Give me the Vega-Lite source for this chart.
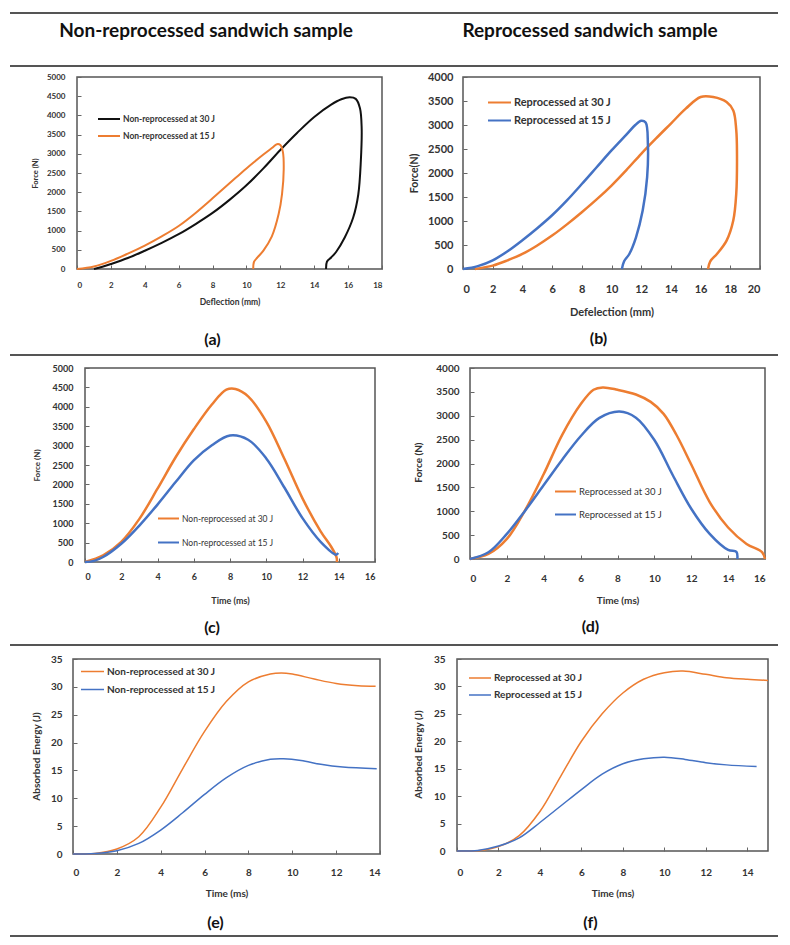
{
"$schema": "https://vega.github.io/schema/vega-lite/v6.json",
"padding": {"left": 9, "top": 12, "right": 2, "bottom": 2},
"background": "white",
"config": {
  "view": {"stroke": null},
  "font": "Lato",
  "concat": {"spacing": 0},
  "axis": {"domain": false, "grid": false, "format": "d", "labelFontWeight": "bold", "titleFontWeight": "bold", "labelColor": "#333", "titleColor": "#333", "tickColor": "#666", "tickSize": -4, "titleAlign": "center", "titleBaseline": "middle", "labelFont": "Lato", "titleFont": "Lato"},
  "legend": {"orient": "none", "title": null, "symbolType": "stroke", "symbolStrokeWidth": 2, "padding": 0, "labelOffset": 2, "labelFontWeight": "bold", "labelColor": "#333", "labelFont": "Lato"},
  "title": {"orient": "bottom", "fontSize": 16, "fontWeight": "bold", "color": "#111", "frame": "group", "baseline": "top", "font": "Lato"}
},
"resolve": {"scale": {"color": "independent", "x": "independent", "y": "independent"}, "legend": {"color": "independent"}},
"datasets": {
  "a": [
    {"series":"Non-reprocessed at 30 J","i":1,"deflection":1.0,"force":0},
    {"series":"Non-reprocessed at 30 J","i":2,"deflection":1.5,"force":60},
    {"series":"Non-reprocessed at 30 J","i":3,"deflection":2,"force":130},
    {"series":"Non-reprocessed at 30 J","i":4,"deflection":3,"force":285},
    {"series":"Non-reprocessed at 30 J","i":5,"deflection":4,"force":475},
    {"series":"Non-reprocessed at 30 J","i":6,"deflection":5,"force":680},
    {"series":"Non-reprocessed at 30 J","i":7,"deflection":6,"force":906},
    {"series":"Non-reprocessed at 30 J","i":8,"deflection":7,"force":1170},
    {"series":"Non-reprocessed at 30 J","i":9,"deflection":8,"force":1460},
    {"series":"Non-reprocessed at 30 J","i":10,"deflection":9,"force":1800},
    {"series":"Non-reprocessed at 30 J","i":11,"deflection":10,"force":2180},
    {"series":"Non-reprocessed at 30 J","i":12,"deflection":11,"force":2620},
    {"series":"Non-reprocessed at 30 J","i":13,"deflection":12,"force":3100},
    {"series":"Non-reprocessed at 30 J","i":14,"deflection":13,"force":3550},
    {"series":"Non-reprocessed at 30 J","i":15,"deflection":14,"force":3960},
    {"series":"Non-reprocessed at 30 J","i":16,"deflection":15,"force":4280},
    {"series":"Non-reprocessed at 30 J","i":17,"deflection":15.6,"force":4420},
    {"series":"Non-reprocessed at 30 J","i":18,"deflection":16.1,"force":4470},
    {"series":"Non-reprocessed at 30 J","i":19,"deflection":16.45,"force":4430},
    {"series":"Non-reprocessed at 30 J","i":20,"deflection":16.7,"force":4186},
    {"series":"Non-reprocessed at 30 J","i":21,"deflection":16.8,"force":3668},
    {"series":"Non-reprocessed at 30 J","i":22,"deflection":16.75,"force":2805},
    {"series":"Non-reprocessed at 30 J","i":23,"deflection":16.6,"force":1940},
    {"series":"Non-reprocessed at 30 J","i":24,"deflection":16.3,"force":1340},
    {"series":"Non-reprocessed at 30 J","i":25,"deflection":15.8,"force":820},
    {"series":"Non-reprocessed at 30 J","i":26,"deflection":15.3,"force":450},
    {"series":"Non-reprocessed at 30 J","i":27,"deflection":15.0,"force":300},
    {"series":"Non-reprocessed at 30 J","i":28,"deflection":14.75,"force":190},
    {"series":"Non-reprocessed at 30 J","i":29,"deflection":14.7,"force":0},
    {"series":"Non-reprocessed at 15 J","i":1,"deflection":0,"force":0},
    {"series":"Non-reprocessed at 15 J","i":2,"deflection":1,"force":65},
    {"series":"Non-reprocessed at 15 J","i":3,"deflection":2,"force":210},
    {"series":"Non-reprocessed at 15 J","i":4,"deflection":3,"force":400},
    {"series":"Non-reprocessed at 15 J","i":5,"deflection":4,"force":610},
    {"series":"Non-reprocessed at 15 J","i":6,"deflection":5,"force":850},
    {"series":"Non-reprocessed at 15 J","i":7,"deflection":6,"force":1120},
    {"series":"Non-reprocessed at 15 J","i":8,"deflection":7,"force":1460},
    {"series":"Non-reprocessed at 15 J","i":9,"deflection":8,"force":1840},
    {"series":"Non-reprocessed at 15 J","i":10,"deflection":9,"force":2230},
    {"series":"Non-reprocessed at 15 J","i":11,"deflection":10,"force":2620},
    {"series":"Non-reprocessed at 15 J","i":12,"deflection":11,"force":2980},
    {"series":"Non-reprocessed at 15 J","i":13,"deflection":11.5,"force":3150},
    {"series":"Non-reprocessed at 15 J","i":14,"deflection":11.8,"force":3250},
    {"series":"Non-reprocessed at 15 J","i":15,"deflection":12.0,"force":3230},
    {"series":"Non-reprocessed at 15 J","i":16,"deflection":12.15,"force":3050},
    {"series":"Non-reprocessed at 15 J","i":17,"deflection":12.2,"force":2600},
    {"series":"Non-reprocessed at 15 J","i":18,"deflection":12.1,"force":1950},
    {"series":"Non-reprocessed at 15 J","i":19,"deflection":11.9,"force":1430},
    {"series":"Non-reprocessed at 15 J","i":20,"deflection":11.5,"force":850},
    {"series":"Non-reprocessed at 15 J","i":21,"deflection":11.0,"force":480},
    {"series":"Non-reprocessed at 15 J","i":22,"deflection":10.65,"force":300},
    {"series":"Non-reprocessed at 15 J","i":23,"deflection":10.45,"force":190},
    {"series":"Non-reprocessed at 15 J","i":24,"deflection":10.4,"force":0}
  ],
  "b": [
    {"series":"Reprocessed at 30 J","i":1,"deflection":0.8,"force":0},
    {"series":"Reprocessed at 30 J","i":2,"deflection":2,"force":70},
    {"series":"Reprocessed at 30 J","i":3,"deflection":3,"force":180},
    {"series":"Reprocessed at 30 J","i":4,"deflection":4,"force":313},
    {"series":"Reprocessed at 30 J","i":5,"deflection":5,"force":490},
    {"series":"Reprocessed at 30 J","i":6,"deflection":6,"force":696},
    {"series":"Reprocessed at 30 J","i":7,"deflection":7,"force":930},
    {"series":"Reprocessed at 30 J","i":8,"deflection":8,"force":1183},
    {"series":"Reprocessed at 30 J","i":9,"deflection":9,"force":1450},
    {"series":"Reprocessed at 30 J","i":10,"deflection":10,"force":1739},
    {"series":"Reprocessed at 30 J","i":11,"deflection":11,"force":2060},
    {"series":"Reprocessed at 30 J","i":12,"deflection":12,"force":2400},
    {"series":"Reprocessed at 30 J","i":13,"deflection":13,"force":2720},
    {"series":"Reprocessed at 30 J","i":14,"deflection":14,"force":3030},
    {"series":"Reprocessed at 30 J","i":15,"deflection":15,"force":3340},
    {"series":"Reprocessed at 30 J","i":16,"deflection":16,"force":3583},
    {"series":"Reprocessed at 30 J","i":17,"deflection":16.85,"force":3583},
    {"series":"Reprocessed at 30 J","i":18,"deflection":17.75,"force":3478},
    {"series":"Reprocessed at 30 J","i":19,"deflection":18.2,"force":3300},
    {"series":"Reprocessed at 30 J","i":20,"deflection":18.4,"force":2900},
    {"series":"Reprocessed at 30 J","i":21,"deflection":18.45,"force":2400},
    {"series":"Reprocessed at 30 J","i":22,"deflection":18.4,"force":1565},
    {"series":"Reprocessed at 30 J","i":23,"deflection":18.2,"force":1009},
    {"series":"Reprocessed at 30 J","i":24,"deflection":17.75,"force":591},
    {"series":"Reprocessed at 30 J","i":25,"deflection":17.1,"force":313},
    {"series":"Reprocessed at 30 J","i":26,"deflection":16.65,"force":160},
    {"series":"Reprocessed at 30 J","i":27,"deflection":16.5,"force":0},
    {"series":"Reprocessed at 15 J","i":1,"deflection":0,"force":0},
    {"series":"Reprocessed at 15 J","i":2,"deflection":1,"force":60},
    {"series":"Reprocessed at 15 J","i":3,"deflection":2,"force":180},
    {"series":"Reprocessed at 15 J","i":4,"deflection":3,"force":370},
    {"series":"Reprocessed at 15 J","i":5,"deflection":4,"force":600},
    {"series":"Reprocessed at 15 J","i":6,"deflection":5,"force":850},
    {"series":"Reprocessed at 15 J","i":7,"deflection":6,"force":1120},
    {"series":"Reprocessed at 15 J","i":8,"deflection":7,"force":1430},
    {"series":"Reprocessed at 15 J","i":9,"deflection":8,"force":1770},
    {"series":"Reprocessed at 15 J","i":10,"deflection":9,"force":2120},
    {"series":"Reprocessed at 15 J","i":11,"deflection":10,"force":2470},
    {"series":"Reprocessed at 15 J","i":12,"deflection":11,"force":2800},
    {"series":"Reprocessed at 15 J","i":13,"deflection":11.6,"force":3000},
    {"series":"Reprocessed at 15 J","i":14,"deflection":12.0,"force":3090},
    {"series":"Reprocessed at 15 J","i":15,"deflection":12.3,"force":3050},
    {"series":"Reprocessed at 15 J","i":16,"deflection":12.45,"force":2609},
    {"series":"Reprocessed at 15 J","i":17,"deflection":12.4,"force":1913},
    {"series":"Reprocessed at 15 J","i":18,"deflection":12.1,"force":1217},
    {"series":"Reprocessed at 15 J","i":19,"deflection":11.65,"force":661},
    {"series":"Reprocessed at 15 J","i":20,"deflection":11.2,"force":313},
    {"series":"Reprocessed at 15 J","i":21,"deflection":10.85,"force":160},
    {"series":"Reprocessed at 15 J","i":22,"deflection":10.7,"force":0}
  ],
  "c": [
    {"series":"Non-reprocessed at 30 J","i":1,"time":0,"force":0},
    {"series":"Non-reprocessed at 30 J","i":2,"time":1,"force":171},
    {"series":"Non-reprocessed at 30 J","i":3,"time":2,"force":520},
    {"series":"Non-reprocessed at 30 J","i":4,"time":3,"force":1111},
    {"series":"Non-reprocessed at 30 J","i":5,"time":4,"force":1890},
    {"series":"Non-reprocessed at 30 J","i":6,"time":5,"force":2700},
    {"series":"Non-reprocessed at 30 J","i":7,"time":6,"force":3420},
    {"series":"Non-reprocessed at 30 J","i":8,"time":7,"force":4060},
    {"series":"Non-reprocessed at 30 J","i":9,"time":7.8,"force":4440},
    {"series":"Non-reprocessed at 30 J","i":10,"time":8.3,"force":4460},
    {"series":"Non-reprocessed at 30 J","i":11,"time":9,"force":4270},
    {"series":"Non-reprocessed at 30 J","i":12,"time":10,"force":3620},
    {"series":"Non-reprocessed at 30 J","i":13,"time":11,"force":2660},
    {"series":"Non-reprocessed at 30 J","i":14,"time":12,"force":1640},
    {"series":"Non-reprocessed at 30 J","i":15,"time":13,"force":790},
    {"series":"Non-reprocessed at 30 J","i":16,"time":13.6,"force":380},
    {"series":"Non-reprocessed at 30 J","i":17,"time":13.88,"force":120},
    {"series":"Non-reprocessed at 30 J","i":18,"time":13.9,"force":0},
    {"series":"Non-reprocessed at 15 J","i":1,"time":0,"force":0},
    {"series":"Non-reprocessed at 15 J","i":2,"time":0.5,"force":30},
    {"series":"Non-reprocessed at 15 J","i":3,"time":1,"force":128},
    {"series":"Non-reprocessed at 15 J","i":4,"time":2,"force":470},
    {"series":"Non-reprocessed at 15 J","i":5,"time":3,"force":940},
    {"series":"Non-reprocessed at 15 J","i":6,"time":4,"force":1480},
    {"series":"Non-reprocessed at 15 J","i":7,"time":5,"force":2060},
    {"series":"Non-reprocessed at 15 J","i":8,"time":6,"force":2620},
    {"series":"Non-reprocessed at 15 J","i":9,"time":7,"force":3010},
    {"series":"Non-reprocessed at 15 J","i":10,"time":8,"force":3260},
    {"series":"Non-reprocessed at 15 J","i":11,"time":9,"force":3150},
    {"series":"Non-reprocessed at 15 J","i":12,"time":10,"force":2670},
    {"series":"Non-reprocessed at 15 J","i":13,"time":11,"force":1920},
    {"series":"Non-reprocessed at 15 J","i":14,"time":12,"force":1130},
    {"series":"Non-reprocessed at 15 J","i":15,"time":13,"force":520},
    {"series":"Non-reprocessed at 15 J","i":16,"time":13.85,"force":190},
    {"series":"Non-reprocessed at 15 J","i":17,"time":13.97,"force":230}
  ],
  "d": [
    {"series":"Reprocessed at 30 J","i":1,"time":0,"force":0},
    {"series":"Reprocessed at 30 J","i":2,"time":1,"force":105},
    {"series":"Reprocessed at 30 J","i":3,"time":2,"force":420},
    {"series":"Reprocessed at 30 J","i":4,"time":3,"force":1030},
    {"series":"Reprocessed at 30 J","i":5,"time":4,"force":1780},
    {"series":"Reprocessed at 30 J","i":6,"time":5,"force":2600},
    {"series":"Reprocessed at 30 J","i":7,"time":6,"force":3240},
    {"series":"Reprocessed at 30 J","i":8,"time":6.7,"force":3544},
    {"series":"Reprocessed at 30 J","i":9,"time":7.2,"force":3593},
    {"series":"Reprocessed at 30 J","i":10,"time":8,"force":3544},
    {"series":"Reprocessed at 30 J","i":11,"time":9,"force":3445},
    {"series":"Reprocessed at 30 J","i":12,"time":9.8,"force":3290},
    {"series":"Reprocessed at 30 J","i":13,"time":10.5,"force":3040},
    {"series":"Reprocessed at 30 J","i":14,"time":11.2,"force":2597},
    {"series":"Reprocessed at 30 J","i":15,"time":12,"force":1980},
    {"series":"Reprocessed at 30 J","i":16,"time":13,"force":1193},
    {"series":"Reprocessed at 30 J","i":17,"time":14,"force":660},
    {"series":"Reprocessed at 30 J","i":18,"time":15,"force":316},
    {"series":"Reprocessed at 30 J","i":19,"time":15.85,"force":140},
    {"series":"Reprocessed at 30 J","i":20,"time":16.0,"force":0},
    {"series":"Reprocessed at 15 J","i":1,"time":0,"force":0},
    {"series":"Reprocessed at 15 J","i":2,"time":1,"force":140},
    {"series":"Reprocessed at 15 J","i":3,"time":2,"force":526},
    {"series":"Reprocessed at 15 J","i":4,"time":3,"force":1018},
    {"series":"Reprocessed at 15 J","i":5,"time":4,"force":1550},
    {"series":"Reprocessed at 15 J","i":6,"time":5,"force":2080},
    {"series":"Reprocessed at 15 J","i":7,"time":6,"force":2570},
    {"series":"Reprocessed at 15 J","i":8,"time":7,"force":2950},
    {"series":"Reprocessed at 15 J","i":9,"time":8.1,"force":3088},
    {"series":"Reprocessed at 15 J","i":10,"time":9,"force":2960},
    {"series":"Reprocessed at 15 J","i":11,"time":10,"force":2491},
    {"series":"Reprocessed at 15 J","i":12,"time":11,"force":1754},
    {"series":"Reprocessed at 15 J","i":13,"time":12,"force":1053},
    {"series":"Reprocessed at 15 J","i":14,"time":13,"force":526},
    {"series":"Reprocessed at 15 J","i":15,"time":14,"force":190},
    {"series":"Reprocessed at 15 J","i":16,"time":14.45,"force":150},
    {"series":"Reprocessed at 15 J","i":17,"time":14.5,"force":0}
  ],
  "e": [
    {"series":"Non-reprocessed at 30 J","i":1,"time":0,"energy":0},
    {"series":"Non-reprocessed at 30 J","i":2,"time":1,"energy":0.1},
    {"series":"Non-reprocessed at 30 J","i":3,"time":2,"energy":0.9},
    {"series":"Non-reprocessed at 30 J","i":4,"time":3,"energy":3.1},
    {"series":"Non-reprocessed at 30 J","i":5,"time":4,"energy":8.4},
    {"series":"Non-reprocessed at 30 J","i":6,"time":5,"energy":15.3},
    {"series":"Non-reprocessed at 30 J","i":7,"time":6,"energy":22.0},
    {"series":"Non-reprocessed at 30 J","i":8,"time":7,"energy":27.4},
    {"series":"Non-reprocessed at 30 J","i":9,"time":8,"energy":30.9},
    {"series":"Non-reprocessed at 30 J","i":10,"time":9,"energy":32.3},
    {"series":"Non-reprocessed at 30 J","i":11,"time":9.5,"energy":32.5},
    {"series":"Non-reprocessed at 30 J","i":12,"time":10,"energy":32.3},
    {"series":"Non-reprocessed at 30 J","i":13,"time":11,"energy":31.4},
    {"series":"Non-reprocessed at 30 J","i":14,"time":12,"energy":30.6},
    {"series":"Non-reprocessed at 30 J","i":15,"time":13,"energy":30.2},
    {"series":"Non-reprocessed at 30 J","i":16,"time":13.8,"energy":30.1},
    {"series":"Non-reprocessed at 15 J","i":1,"time":0,"energy":0},
    {"series":"Non-reprocessed at 15 J","i":2,"time":1,"energy":0.1},
    {"series":"Non-reprocessed at 15 J","i":3,"time":2,"energy":0.6},
    {"series":"Non-reprocessed at 15 J","i":4,"time":3,"energy":1.9},
    {"series":"Non-reprocessed at 15 J","i":5,"time":4,"energy":4.3},
    {"series":"Non-reprocessed at 15 J","i":6,"time":5,"energy":7.4},
    {"series":"Non-reprocessed at 15 J","i":7,"time":6,"energy":10.7},
    {"series":"Non-reprocessed at 15 J","i":8,"time":7,"energy":13.7},
    {"series":"Non-reprocessed at 15 J","i":9,"time":8,"energy":15.9},
    {"series":"Non-reprocessed at 15 J","i":10,"time":9,"energy":17.0},
    {"series":"Non-reprocessed at 15 J","i":11,"time":9.6,"energy":17.1},
    {"series":"Non-reprocessed at 15 J","i":12,"time":10.4,"energy":16.8},
    {"series":"Non-reprocessed at 15 J","i":13,"time":11.3,"energy":16.1},
    {"series":"Non-reprocessed at 15 J","i":14,"time":12.3,"energy":15.6},
    {"series":"Non-reprocessed at 15 J","i":15,"time":13.85,"energy":15.3}
  ],
  "f": [
    {"series":"Reprocessed at 30 J","i":1,"time":0,"energy":0},
    {"series":"Reprocessed at 30 J","i":2,"time":1,"energy":0.05},
    {"series":"Reprocessed at 30 J","i":3,"time":2,"energy":0.8},
    {"series":"Reprocessed at 30 J","i":4,"time":3,"energy":2.8},
    {"series":"Reprocessed at 30 J","i":5,"time":4,"energy":7.2},
    {"series":"Reprocessed at 30 J","i":6,"time":5,"energy":13.6},
    {"series":"Reprocessed at 30 J","i":7,"time":6,"energy":20.0},
    {"series":"Reprocessed at 30 J","i":8,"time":7,"energy":25.0},
    {"series":"Reprocessed at 30 J","i":9,"time":8,"energy":28.8},
    {"series":"Reprocessed at 30 J","i":10,"time":9,"energy":31.3},
    {"series":"Reprocessed at 30 J","i":11,"time":10,"energy":32.5},
    {"series":"Reprocessed at 30 J","i":12,"time":10.9,"energy":32.8},
    {"series":"Reprocessed at 30 J","i":13,"time":12,"energy":32.2},
    {"series":"Reprocessed at 30 J","i":14,"time":13,"energy":31.6},
    {"series":"Reprocessed at 30 J","i":15,"time":14,"energy":31.3},
    {"series":"Reprocessed at 30 J","i":16,"time":15,"energy":31.1},
    {"series":"Reprocessed at 15 J","i":1,"time":0,"energy":0},
    {"series":"Reprocessed at 15 J","i":2,"time":1,"energy":0.1},
    {"series":"Reprocessed at 15 J","i":3,"time":2,"energy":0.9},
    {"series":"Reprocessed at 15 J","i":4,"time":3,"energy":2.4},
    {"series":"Reprocessed at 15 J","i":5,"time":4,"energy":5.2},
    {"series":"Reprocessed at 15 J","i":6,"time":5,"energy":8.2},
    {"series":"Reprocessed at 15 J","i":7,"time":6,"energy":11.2},
    {"series":"Reprocessed at 15 J","i":8,"time":7,"energy":14.0},
    {"series":"Reprocessed at 15 J","i":9,"time":8,"energy":15.9},
    {"series":"Reprocessed at 15 J","i":10,"time":9,"energy":16.8},
    {"series":"Reprocessed at 15 J","i":11,"time":10,"energy":17.1},
    {"series":"Reprocessed at 15 J","i":12,"time":11,"energy":16.7},
    {"series":"Reprocessed at 15 J","i":13,"time":12,"energy":16.1},
    {"series":"Reprocessed at 15 J","i":14,"time":13,"energy":15.7},
    {"series":"Reprocessed at 15 J","i":15,"time":14.45,"energy":15.4}
  ]
},
"vconcat": [
  {
    "width": 768, "height": 53,
    "layer": [
      {"data": {"values": [{"edge": 1}, {"edge": 0}]},
       "mark": {"type": "rule", "color": "#555", "strokeWidth": 2},
       "encoding": {"y": {"field": "edge", "type": "quantitative", "scale": {"domain": [0, 1]}, "axis": null}}},
      {"data": {"values": [{"header": "Non-reprocessed sandwich sample"}, {"header": "Reprocessed sandwich sample"}]},
       "mark": {"type": "text", "fontSize": 19, "fontWeight": "bold", "font": "Lato", "color": "#111", "dy": -9, "dx": 4, "baseline": "middle"},
       "encoding": {"x": {"field": "header", "type": "nominal", "axis": null, "sort": null}, "text": {"field": "header"}}}
    ]
  },
  {"width": 10, "height": 3, "data": {"values": []}, "mark": "point", "encoding": {}},
  {
    "bounds": "flush", "spacing": 0,
    "resolve": {"scale": {"color": "independent", "x": "independent", "y": "independent"}, "legend": {"color": "independent"}},
    "hconcat": [
      {"width": 67, "height": 277, "data": {"values": []}, "mark": "point", "encoding": {}},
      {
        "width": 305, "height": 192,
        "view": {"stroke": "#555", "strokeWidth": 1.5},
        "title": {"text": "(a)", "dx": -17, "offset": 26},
        "data": {"name": "a"},
        "mark": {"type": "line", "strokeWidth": 2, "interpolate": "catmull-rom"},
        "encoding": {
          "x": {"field": "deflection", "type": "quantitative", "scale": {"domain": [0, 18], "nice": false},
                "axis": {"values": [0,2,4,6,8,10,12,14,16,18], "title": "Deflection (mm)", "labelFontSize": 8, "titleFontSize": 8.5, "labelPadding": 16, "titleY": 32}},
          "y": {"field": "force", "type": "quantitative", "scale": {"domain": [0, 5000], "nice": false},
                "axis": {"values": [0,500,1000,1500,2000,2500,3000,3500,4000,4500,5000], "title": "Force (N)", "labelFontSize": 8, "titleFontSize": 7.5, "labelPadding": 16, "titleX": -42, "titleY": 96}},
          "color": {"field": "series", "type": "nominal", "scale": {"domain": ["Non-reprocessed at 30 J", "Non-reprocessed at 15 J"], "range": ["#111111", "#ED7D31"]},
                    "legend": {"legendX": 20, "legendY": 30, "symbolSize": 484, "labelFontSize": 8.5, "rowPadding": -5}},
          "order": {"field": "i", "type": "quantitative"}
        }
      },
      {"width": 81, "height": 10, "data": {"values": []}, "mark": "point", "encoding": {}},
      {
        "width": 297, "height": 192,
        "view": {"stroke": "#555", "strokeWidth": 1.5},
        "title": {"text": "(b)", "dx": -13, "offset": 14},
        "data": {"name": "b"},
        "mark": {"type": "line", "strokeWidth": 2.5, "interpolate": "catmull-rom"},
        "encoding": {
          "x": {"field": "deflection", "type": "quantitative", "scale": {"domain": [0, 20], "nice": false},
                "axis": {"values": [0,2,4,6,8,10,12,14,16,18,20], "title": "Defelection (mm)", "labelFontSize": 11, "titleFontSize": 11, "labelPadding": 18, "titleY": 43}},
          "y": {"field": "force", "type": "quantitative", "scale": {"domain": [0, 4000], "nice": false},
                "axis": {"values": [0,500,1000,1500,2000,2500,3000,3500,4000], "title": "Force(N)", "labelFontSize": 11, "titleFontSize": 10.5, "labelPadding": 14, "titleX": -49, "titleY": 96}},
          "color": {"field": "series", "type": "nominal", "scale": {"domain": ["Reprocessed at 30 J", "Reprocessed at 15 J"], "range": ["#ED7D31", "#4472C4"]},
                    "legend": {"legendX": 24, "legendY": 13, "symbolSize": 529, "labelFontSize": 11, "rowPadding": -1}},
          "order": {"field": "i", "type": "quantitative"}
        }
      }
    ]
  },
  {"width": 768, "height": 7, "data": {"values": [{"edge": 1}]},
   "mark": {"type": "rule", "color": "#555", "strokeWidth": 2},
   "encoding": {"y": {"field": "edge", "type": "quantitative", "scale": {"domain": [0, 1]}, "axis": null}}},
  {
    "bounds": "flush", "spacing": 0,
    "resolve": {"scale": {"color": "independent", "x": "independent", "y": "independent"}, "legend": {"color": "independent"}},
    "hconcat": [
      {"width": 75, "height": 276, "data": {"values": []}, "mark": "point", "encoding": {}},
      {
        "width": 290, "height": 194,
        "view": {"stroke": "#555", "strokeWidth": 1.5},
        "title": {"text": "(c)", "dx": -18, "offset": 15},
        "data": {"name": "c"},
        "mark": {"type": "line", "strokeWidth": 2.5, "interpolate": "catmull-rom"},
        "encoding": {
          "x": {"field": "time", "type": "quantitative", "scale": {"domain": [0, 16], "nice": false},
                "axis": {"values": [0,2,4,6,8,10,12,14,16], "title": "Time (ms)", "labelFontSize": 9, "titleFontSize": 9, "labelPadding": 14, "titleY": 38}},
          "y": {"field": "force", "type": "quantitative", "scale": {"domain": [0, 5000], "nice": false},
                "axis": {"values": [0,500,1000,1500,2000,2500,3000,3500,4000,4500,5000], "title": "Force (N)", "labelFontSize": 9, "titleFontSize": 8, "labelPadding": 16, "titleX": -48, "titleY": 97}},
          "color": {"field": "series", "type": "nominal", "scale": {"domain": ["Non-reprocessed at 30 J", "Non-reprocessed at 15 J"], "range": ["#ED7D31", "#4472C4"]},
                    "legend": {"legendX": 72, "legendY": 139, "symbolSize": 441, "labelFontSize": 8.5, "labelFontWeight": "normal", "rowPadding": 8}},
          "order": {"field": "i", "type": "quantitative"}
        }
      },
      {"width": 95, "height": 10, "data": {"values": []}, "mark": "point", "encoding": {}},
      {
        "width": 295, "height": 191,
        "view": {"stroke": "#555", "strokeWidth": 1.5},
        "title": {"text": "(d)", "dx": -27, "offset": 14},
        "data": {"name": "d"},
        "mark": {"type": "line", "strokeWidth": 2.5, "interpolate": "catmull-rom"},
        "encoding": {
          "x": {"field": "time", "type": "quantitative", "scale": {"domain": [0, 16], "nice": false},
                "axis": {"values": [0,2,4,6,8,10,12,14,16], "title": "Time (ms)", "labelFontSize": 10, "titleFontSize": 10, "labelPadding": 18, "titleY": 41}},
          "y": {"field": "force", "type": "quantitative", "scale": {"domain": [0, 4000], "nice": false},
                "axis": {"values": [0,500,1000,1500,2000,2500,3000,3500,4000], "title": "Force (N)", "labelFontSize": 10, "titleFontSize": 10, "labelPadding": 15, "titleX": -52, "titleY": 94}},
          "color": {"field": "series", "type": "nominal", "scale": {"domain": ["Reprocessed at 30 J", "Reprocessed at 15 J"], "range": ["#ED7D31", "#4472C4"]},
                    "legend": {"legendX": 84, "legendY": 112, "symbolSize": 441, "labelFontSize": 9.5, "labelFontWeight": "normal", "rowPadding": 7}},
          "order": {"field": "i", "type": "quantitative"}
        }
      }
    ]
  },
  {"width": 768, "height": 8, "data": {"values": [{"edge": 1}]},
   "mark": {"type": "rule", "color": "#555", "strokeWidth": 2},
   "encoding": {"y": {"field": "edge", "type": "quantitative", "scale": {"domain": [0, 1]}, "axis": null}}},
  {
    "bounds": "flush", "spacing": 0,
    "resolve": {"scale": {"color": "independent", "x": "independent", "y": "independent"}, "legend": {"color": "independent"}},
    "hconcat": [
      {"width": 63, "height": 276, "data": {"values": []}, "mark": "point", "encoding": {}},
      {
        "width": 307, "height": 195,
        "view": {"stroke": "#555", "strokeWidth": 1.5},
        "title": {"text": "(e)", "dx": -11, "offset": 17},
        "data": {"name": "e"},
        "mark": {"type": "line", "strokeWidth": 1.5, "interpolate": "catmull-rom"},
        "encoding": {
          "x": {"field": "time", "type": "quantitative", "scale": {"domain": [0, 14], "nice": false},
                "axis": {"values": [0,2,4,6,8,10,12,14], "title": "Time (ms)", "labelFontSize": 10, "titleFontSize": 10, "labelPadding": 17.5, "titleY": 39}},
          "y": {"field": "energy", "type": "quantitative", "scale": {"domain": [0, 35], "nice": false},
                "axis": {"values": [0,5,10,15,20,25,30,35], "title": "Absorbed Energy (J)", "labelFontSize": 10, "titleFontSize": 10, "labelPadding": 15, "titleX": -37, "titleY": 97}},
          "color": {"field": "series", "type": "nominal", "scale": {"domain": ["Non-reprocessed at 30 J", "Non-reprocessed at 15 J"], "range": ["#ED7D31", "#4472C4"]},
                    "legend": {"legendX": 7, "legendY": 0, "symbolSize": 529, "symbolStrokeWidth": 1.5, "labelFontSize": 10, "rowPadding": -6}},
          "order": {"field": "i", "type": "quantitative"}
        }
      },
      {"width": 77, "height": 10, "data": {"values": []}, "mark": "point", "encoding": {}},
      {
        "width": 311, "height": 192,
        "view": {"stroke": "#555", "strokeWidth": 1.5},
        "title": {"text": "(f)", "dx": -22, "offset": 17},
        "data": {"name": "f"},
        "mark": {"type": "line", "strokeWidth": 1.5, "interpolate": "catmull-rom"},
        "encoding": {
          "x": {"field": "time", "type": "quantitative", "scale": {"domain": [0, 15], "nice": false},
                "axis": {"values": [0,2,4,6,8,10,12,14], "title": "Time (ms)", "labelFontSize": 10, "titleFontSize": 10, "labelPadding": 20.5, "titleY": 42}},
          "y": {"field": "energy", "type": "quantitative", "scale": {"domain": [0, 35], "nice": false},
                "axis": {"values": [0,5,10,15,20,25,30,35], "title": "Absorbed Energy (J)", "labelFontSize": 10, "titleFontSize": 10, "labelPadding": 16, "titleX": -39, "titleY": 95}},
          "color": {"field": "series", "type": "nominal", "scale": {"domain": ["Reprocessed at 30 J", "Reprocessed at 15 J"], "range": ["#ED7D31", "#4472C4"]},
                    "legend": {"legendX": 11, "legendY": 7, "symbolSize": 484, "symbolStrokeWidth": 1.5, "labelFontSize": 10, "rowPadding": -5}},
          "order": {"field": "i", "type": "quantitative"}
        }
      }
    ]
  },
  {"width": 768, "height": 1, "data": {"values": [{"edge": 1}]},
   "mark": {"type": "rule", "color": "#555", "strokeWidth": 2},
   "encoding": {"y": {"field": "edge", "type": "quantitative", "scale": {"domain": [0, 1]}, "axis": null}}}
],
"spacing": 0
}
